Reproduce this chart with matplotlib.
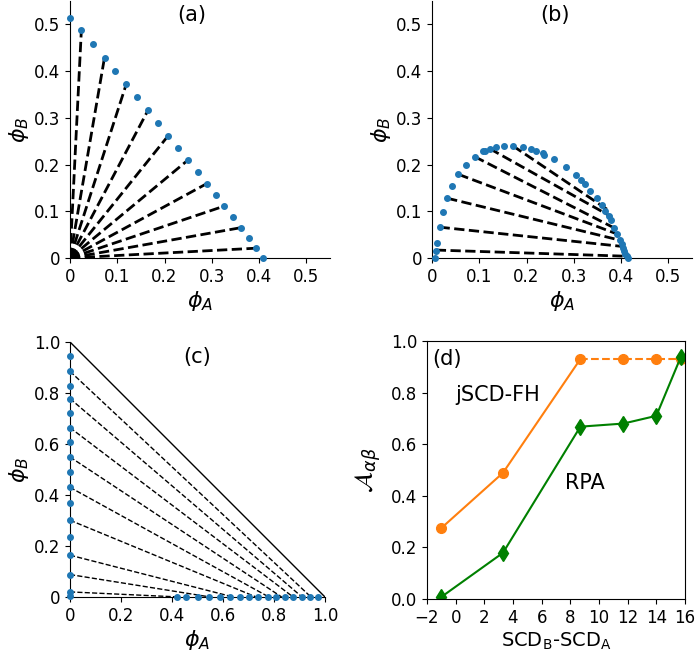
import matplotlib
matplotlib.use("Agg")
import matplotlib.pyplot as plt

# (a) binodal points and tie lines
a_phiA = [0.001, 0.024, 0.049, 0.073, 0.096, 0.119, 0.142, 0.165, 0.187, 0.208, 0.229,
          0.250, 0.270, 0.289, 0.308, 0.326, 0.344, 0.362, 0.378, 0.394, 0.409]
a_phiB = [0.514, 0.487, 0.457, 0.429, 0.400, 0.372, 0.344, 0.316, 0.289, 0.262, 0.236,
          0.210, 0.185, 0.159, 0.135, 0.111, 0.088, 0.065, 0.042, 0.021, 0.0]
a_tie_A1 = [0.024, 0.073, 0.119, 0.165, 0.208, 0.250, 0.289, 0.326, 0.362, 0.394]
a_tie_B1 = [0.487, 0.429, 0.372, 0.316, 0.262, 0.210, 0.159, 0.111, 0.065, 0.021]

# (b)
b_phiA = [0.007, 0.008, 0.011, 0.016, 0.023, 0.032, 0.043, 0.056, 0.072, 0.090, 0.108,
          0.112, 0.122, 0.136, 0.153, 0.171, 0.192, 0.210, 0.220, 0.235, 0.236, 0.258,
          0.283, 0.304, 0.315, 0.323, 0.335, 0.349, 0.360, 0.367, 0.374, 0.378, 0.386,
          0.392, 0.398, 0.401, 0.404, 0.406, 0.409, 0.412, 0.415]
b_phiB = [0.0, 0.016, 0.033, 0.066, 0.098, 0.128, 0.155, 0.179, 0.200, 0.217, 0.228,
          0.230, 0.234, 0.238, 0.240, 0.240, 0.238, 0.234, 0.229, 0.224, 0.221, 0.211,
          0.195, 0.178, 0.167, 0.158, 0.144, 0.128, 0.114, 0.101, 0.089, 0.082, 0.064,
          0.052, 0.039, 0.029, 0.022, 0.016, 0.009, 0.004, 0.0]
b_tie_A1 = [0.171, 0.122, 0.090, 0.056, 0.032, 0.016, 0.008]
b_tie_B1 = [0.240, 0.234, 0.217, 0.179, 0.128, 0.066, 0.017]
b_tie_A2 = [0.375, 0.380, 0.386, 0.390, 0.394, 0.400, 0.405]
b_tie_B2 = [0.101, 0.088, 0.064, 0.052, 0.039, 0.025, 0.004]

# (c)
c_left_B = [0.946, 0.885, 0.826, 0.778, 0.721, 0.664, 0.607, 0.549, 0.489, 0.430,
            0.367, 0.301, 0.236, 0.164, 0.088, 0.020, 0.003]
c_bot_A = [0.418, 0.455, 0.501, 0.546, 0.588, 0.627, 0.667, 0.703, 0.739, 0.775,
           0.808, 0.843, 0.876, 0.908, 0.941, 0.971]
c_tie_B = [0.885, 0.778, 0.664, 0.549, 0.430, 0.301, 0.164, 0.088, 0.020]
c_tie_A = [0.945, 0.910, 0.875, 0.830, 0.780, 0.730, 0.640, 0.550, 0.430]

# (d)
d_x = [-1.0, 3.3, 8.7, 11.7, 14.0, 15.7]
d_jscd = [0.275, 0.489, 0.930, 0.930, 0.930, 0.930]
d_rpa = [0.008, 0.179, 0.668, 0.680, 0.710, 0.937]

W, H = 695, 651
fig = plt.figure(figsize=(W / 100, H / 100), dpi=100)

def add(l, r, b, t):
    return fig.add_axes([l / W, 1 - b / H, (r - l) / W, (b - t) / H])

blue = '#1f77b4'

def phase_axes(ax, lim, ticks, labels, tag, tagpos):
    ax.set_xlim(0, lim)
    ax.set_ylim(0, lim)
    ax.spines['top'].set_visible(False)
    ax.spines['right'].set_visible(False)
    ax.set_xticks(ticks)
    ax.set_xticklabels(labels)
    ax.set_yticks(ticks)
    ax.set_yticklabels(labels)
    ax.tick_params(labelsize=12)
    ax.set_xlabel(r'$\phi_A$', fontsize=16, labelpad=2)
    ax.set_ylabel(r'$\phi_B$', fontsize=16, labelpad=2)
    ax.text(tagpos[0], tagpos[1], tag, fontsize=15, ha='center', va='center')

t5 = [0, 0.1, 0.2, 0.3, 0.4, 0.5]
l5 = ['0', '0.1', '0.2', '0.3', '0.4', '0.5']

# (a)
ax = add(70, 330, 258, 1)
for xa, yb in zip(a_tie_A1, a_tie_B1):
    ax.plot([0, xa], [0, yb], 'k--', lw=2)
ax.plot(a_phiA, a_phiB, 'o', color=blue, ms=4, clip_on=False, zorder=3)
phase_axes(ax, 0.55, t5, l5, '(a)', (0.257, 0.52))

# (b)
ax = add(432, 692, 258, 1)
for x1, y1, x2, y2 in zip(b_tie_A1, b_tie_B1, b_tie_A2, b_tie_B2):
    ax.plot([x1, x2], [y1, y2], 'k--', lw=2)
ax.plot(b_phiA, b_phiB, 'o', color=blue, ms=4, clip_on=False, zorder=3)
phase_axes(ax, 0.55, t5, l5, '(b)', (0.26, 0.52))

# (c)
ax = add(70, 325, 597, 342)
ax.plot([0, 1], [1, 0], 'k-', lw=1)
for xa, yb in zip(c_tie_A, c_tie_B):
    ax.plot([0, xa], [yb, 0], 'k--', lw=1)
ax.plot([0] * len(c_left_B), c_left_B, 'o', color=blue, ms=4, clip_on=False, zorder=3)
ax.plot(c_bot_A, [0] * len(c_bot_A), 'o', color=blue, ms=4, clip_on=False, zorder=3)
t10 = [0, 0.2, 0.4, 0.6, 0.8, 1.0]
l10 = ['0', '0.2', '0.4', '0.6', '0.8', '1.0']
phase_axes(ax, 1.0, t10, l10, '(c)', (0.5, 0.94))
ax.set_xlim(0, 1.0)
ax.set_ylim(0, 1.0)

# (d)
ax = add(427, 685, 599, 341)
ax.plot(d_x[:3], d_jscd[:3], '-', color='tab:orange', lw=1.5)
ax.plot(d_x[2:], d_jscd[2:], '--', color='tab:orange', lw=1.5)
ax.plot(d_x, d_jscd, 'o', color='tab:orange', ms=7, ls='none')
ax.plot(d_x, d_rpa, 'd', color='green', ms=8, ls='-', lw=1.5)
ax.set_xlim(-2, 16)
ax.set_ylim(0, 1.0)
ax.set_xticks(range(-2, 17, 2))
ax.set_yticks([0, 0.2, 0.4, 0.6, 0.8, 1.0])
ax.set_yticklabels(['0.0', '0.2', '0.4', '0.6', '0.8', '1.0'])
ax.tick_params(labelsize=12)
ax.set_xlabel(r'SCD$_\mathrm{B}$-SCD$_\mathrm{A}$', fontsize=14, labelpad=3)
ax.set_ylabel(r'$\mathcal{A}_{\alpha\beta}$', fontsize=18, labelpad=6)
ax.text(-1.65, 0.93, '(d)', fontsize=15, va='center')
ax.text(0.0, 0.79, 'jSCD-FH', fontsize=15, va='center')
ax.text(7.6, 0.45, 'RPA', fontsize=15, va='center')

fig.savefig('out.png', dpi=100)
